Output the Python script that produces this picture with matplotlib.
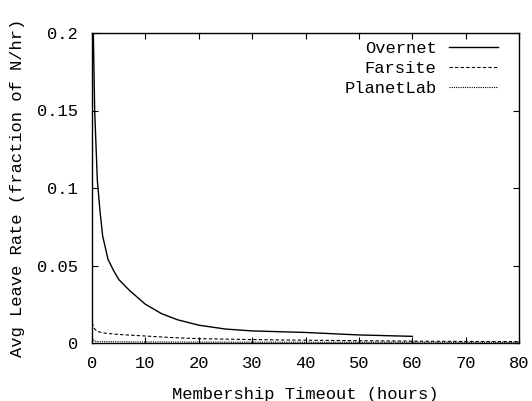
import matplotlib
matplotlib.use("Agg")
import matplotlib.pyplot as plt

# membership timeout (hours) vs avg leave rate
overnet_x = [0.25, 0.5, 1, 1.5, 2, 3, 4, 5, 7, 10, 13, 16, 20, 25, 30, 40, 50, 60]
overnet_y = [0.2, 0.15, 0.105, 0.085, 0.069, 0.054, 0.047, 0.041, 0.034, 0.025,
             0.019, 0.015, 0.0115, 0.009, 0.0078, 0.0068, 0.0052, 0.0043]

farsite_x = [0, 0.5, 1, 2, 5, 10, 15, 20, 30, 40, 50, 60, 70, 80]
farsite_y = [0.013, 0.009, 0.0075, 0.0065, 0.0055, 0.0045, 0.0035, 0.0028, 0.0022,
             0.0018, 0.0015, 0.0012, 0.001, 0.0009]

planetlab_x = [0, 0.5, 1, 5, 10, 20, 40, 60, 80]
planetlab_y = [0.003, 0.0012, 0.0009, 0.0008, 0.0007, 0.0006, 0.0005, 0.0005, 0.0004]

plt.rcParams['font.family'] = ['Liberation Mono', 'DejaVu Sans Mono']
plt.rcParams['font.size'] = 12.3

fig = plt.figure(figsize=(5.32, 4.01), dpi=100)
ax = fig.add_axes([92 / 532, 1 - 343 / 401, (519 - 92) / 532, (343 - 33) / 401])

ax.plot(overnet_x, overnet_y, color='black', lw=1.0, label='Overnet')
ax.plot(farsite_x, farsite_y, color='black', lw=0.8, ls=(0, (3, 2)), label='Farsite')
ax.plot(planetlab_x, planetlab_y, color='black', lw=0.8, ls=(0, (1, 1)), label='PlanetLab')

ax.set_xlim(0, 80)
ax.set_ylim(0, 0.2)
ax.set_xticks(range(0, 81, 10))
ax.set_yticks([0, 0.05, 0.1, 0.15, 0.2])
ax.set_yticklabels(['0', '0.05', '0.1', '0.15', '0.2'])
ax.tick_params(direction='in', top=True, right=True, length=4, width=0.8, pad=9)
ax.tick_params(axis='y', pad=10)
for s in ax.spines.values():
    s.set_linewidth(1.0)

ax.set_xlabel('Membership Timeout (hours)', labelpad=12)
ax.set_ylabel('Avg Leave Rate (fraction of N/hr)', labelpad=9)

ax.legend(loc='upper right', bbox_to_anchor=(0.951, 0.975), frameon=False,
          markerfirst=False, handlelength=2.9, borderaxespad=0, borderpad=0,
          labelspacing=0.3, handletextpad=0.7)

fig.savefig('out.png', dpi=100)
